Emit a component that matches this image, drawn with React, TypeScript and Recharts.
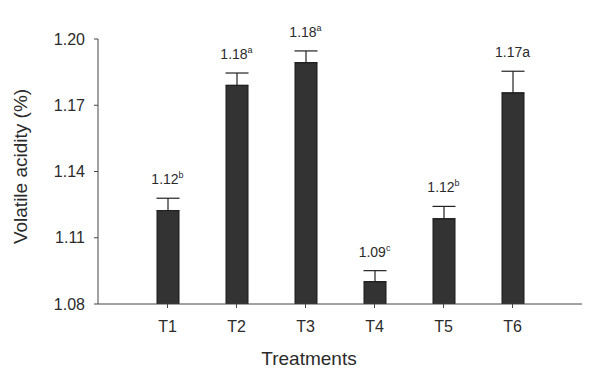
import React from 'react';
import { ComposedChart, Bar, Line, XAxis, YAxis, ErrorBar, LabelList, Label } from 'recharts';

const treatments = ['T1', 'T2', 'T3', 'T4', 'T5', 'T6'];
const means = [1.1223, 1.179, 1.1893, 1.0901, 1.1186, 1.1756];
const errors = [0.0056, 0.0056, 0.0053, 0.005, 0.0056, 0.0098];
const valueLabels = ['1.12', '1.18', '1.18', '1.09', '1.12', '1.17a'];
const letters = ['b', 'a', 'a', 'c', 'b', ''];
const yTicks = [1.08, 1.11, 1.14, 1.17, 1.2];

const data = treatments.map((t, i) => ({
  name: t,
  value: means[i],
  err: [0, errors[i]],
  cap: means[i] + errors[i],
}));

const font = '"Liberation Sans", Arial, sans-serif';
const textColor = '#2b2b2b';

function ValueLabel(props: any) {
  const { x, y, index } = props;
  return (
    <text x={x} y={y - 14} textAnchor="middle" fontFamily={font} fontSize={14} fill={textColor}>
      <tspan>{valueLabels[index]}</tspan>
      {letters[index] ? (
        <tspan dy={-6} fontSize={9}>{letters[index]}</tspan>
      ) : null}
    </text>
  );
}

export default function App() {
  return (
    <div style={{ position: 'fixed', left: 0, top: 0, width: 593, height: 377, background: '#fff' }}>
      <ComposedChart width={593} height={377} data={data} margin={{ top: 39, right: 11, bottom: 0, left: 0 }}>
        <XAxis
          dataKey="name"
          padding={{ left: 35, right: 35 }}
          stroke="#444"
          tickSize={4}
          tickMargin={13}
          height={73}
          tick={{ fill: textColor, fontSize: 16, fontFamily: font }}
        >
          <Label
            value="Treatments"
            position="insideBottom"
            offset={12}
            dx={-31}
            style={{ fill: textColor, fontSize: 19, fontFamily: font }}
          />
        </XAxis>
        <YAxis
          type="number"
          domain={[1.08, 1.2]}
          ticks={yTicks}
          allowDataOverflow
          width={98}
          stroke="#444"
          tickSize={4}
          tickMargin={9}
          tickFormatter={(v: number) => v.toFixed(2)}
          tick={{ fill: textColor, fontSize: 16, fontFamily: font }}
        >
          <Label
            value="Volatile acidity (%)"
            angle={-90}
            position="insideLeft"
            offset={20}
            dy={-5}
            style={{ textAnchor: 'middle', fill: textColor, fontSize: 19, fontFamily: font }}
          />
        </YAxis>
        <Bar dataKey="value" barSize={22} fill="#333333" stroke="#1a1a1a" strokeWidth={1} isAnimationActive={false}>
          <ErrorBar dataKey="err" direction="y" width={11.5} stroke="#222" strokeWidth={1.2} />
        </Bar>
        <Line
          dataKey="cap"
          stroke="none"
          dot={false}
          activeDot={false}
          legendType="none"
          isAnimationActive={false}
        >
          <LabelList dataKey="cap" content={<ValueLabel />} />
        </Line>
      </ComposedChart>
    </div>
  );
}
